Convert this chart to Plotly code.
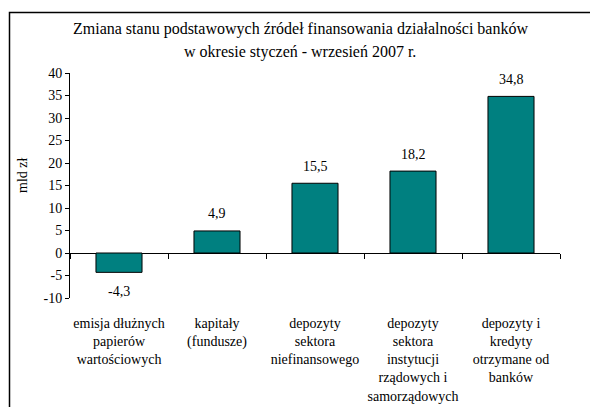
import plotly.graph_objects as go

categories = [
    "emisja dłużnych<br>papierów<br>wartościowych",
    "kapitały<br>(fundusze)",
    "depozyty<br>sektora<br>niefinansowego",
    "depozyty<br>sektora<br>instytucji<br>rządowych i<br>samorządowych",
    "depozyty i<br>kredyty<br>otrzymane od<br>banków",
]
values = [-4.3, 4.9, 15.5, 18.2, 34.8]
y_ticks = [-10, -5, 0, 5, 10, 15, 20, 25, 30, 35, 40]
y_tick_text = ["-10", "-5", "0", "5", "10", "15", "20", "25", "30", "35", "40"]
title_lines = [
    "Zmiana stanu podstawowych źródeł finansowania działalności banków",
    "w okresie styczeń - wrzesień 2007 r.",
]
y_title = "mld zł"

FONT = "Liberation Serif"

fig = go.Figure()
fig.add_trace(go.Bar(
    x=categories, y=values,
    marker=dict(color="#008080", line=dict(color="#000000", width=1)),
    showlegend=False, hoverinfo="skip",
))
# invisible trace to carry the tick marks on the zero line
fig.add_trace(go.Scatter(
    x=categories, y=values, xaxis="x2", mode="markers",
    marker=dict(opacity=0), showlegend=False, hoverinfo="skip",
))

annotations = []
for c, v in zip(categories, values):
    annotations.append(dict(
        x=c, y=v, xref="x", yref="y",
        text=f"{v:.1f}".replace(".", ","),
        showarrow=False, yanchor="middle",
        yshift=17 if v >= 0 else -19,
        font=dict(family=FONT, size=14, color="#000"),
    ))

# plot area: x 70..560 px, y 73..298 px
def px_x(p):
    return (p - 70) / 490

def px_y(p):
    return (298 - p) / 225

for line, py in zip(title_lines, [29, 52]):
    annotations.append(dict(
        x=px_x(300), y=px_y(py), xref="paper", yref="paper",
        xanchor="center", yanchor="middle", text=line, showarrow=False,
        font=dict(family=FONT, size=16, color="#000"),
    ))
annotations.append(dict(
    x=px_x(22), y=px_y(176), xref="paper", yref="paper",
    xanchor="center", yanchor="middle", text=y_title, showarrow=False,
    textangle=-90, font=dict(family=FONT, size=14, color="#000"),
))

fig.update_layout(
    width=590, height=407,
    margin=dict(l=70, r=30, t=73, b=109, autoexpand=False),
    paper_bgcolor="white", plot_bgcolor="white",
    bargap=0.53,
    font=dict(family=FONT, size=14, color="#000"),
    xaxis=dict(
        type="category", showline=False, showgrid=False, zeroline=False,
        automargin=False,
        ticks="outside", ticklen=12, tickcolor="rgba(0,0,0,0)",
        tickfont=dict(family=FONT, size=14, color="#000"),
    ),
    xaxis2=dict(
        type="category", overlaying="x", anchor="free", position=0.2, side="bottom",
        matches="x", showline=False, showgrid=False, zeroline=False,
        automargin=False,
        tickson="boundaries", ticks="outside", ticklen=5, tickcolor="#000",
        showticklabels=False,
    ),
    yaxis=dict(
        range=[-10, 40], tickvals=y_ticks, ticktext=y_tick_text,
        showgrid=False, automargin=False,
        showline=True, linecolor="#000", linewidth=1,
        ticks="outside", ticklen=4, tickcolor="#000",
        zeroline=True, zerolinecolor="#000", zerolinewidth=1,
        tickfont=dict(family=FONT, size=14, color="#000"),
    ),
    annotations=annotations,
    shapes=[dict(
        type="rect", xref="paper", yref="paper",
        x0=px_x(9.5), x1=1.12, y0=-0.6, y1=px_y(12.5),
        line=dict(color="#000", width=1.5), fillcolor="rgba(0,0,0,0)", layer="below",
    )],
)

fig.write_html(
    "out.html",
    config={"displayModeBar": False},
    post_script="document.body.style.margin='0px';document.body.style.overflow='hidden';",
)
